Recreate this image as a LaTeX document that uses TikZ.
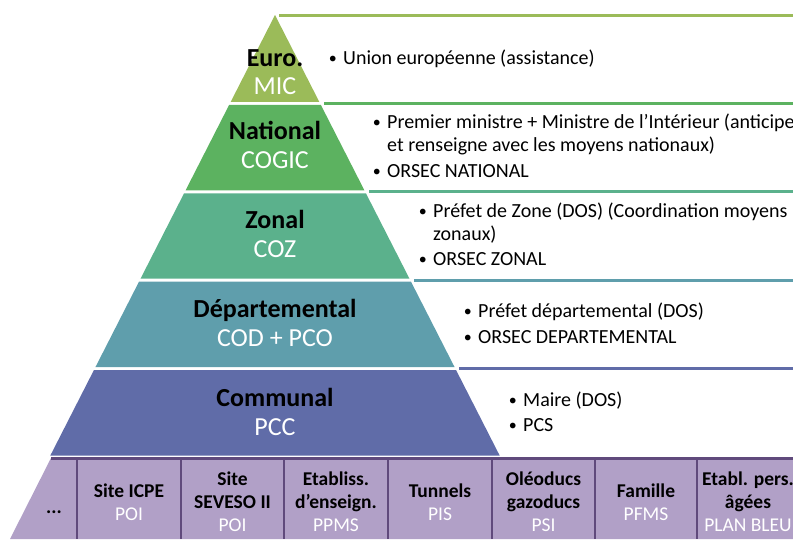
\documentclass[tikz,border=0pt]{standalone}
\usepackage{fontspec}
\setmainfont{Carlito}
\usetikzlibrary{positioning}

\definecolor{eurocol}{RGB}{155,187,89}
\definecolor{natcol}{RGB}{92,178,96}
\definecolor{zoncol}{RGB}{91,177,140}
\definecolor{depcol}{RGB}{95,158,172}
\definecolor{comcol}{RGB}{96,108,168}
\definecolor{plancol}{RGB}{177,160,199}
\definecolor{plandark}{RGB}{96,74,124}

\newcommand{\plansub}[1]{{\mdseries\color{white}#1}}

\tikzset{
  lvl/.style={font=\fontsize{26}{26}\selectfont\bfseries,anchor=base,inner sep=0pt},
  lvlsub/.style={font=\fontsize{26}{26}\selectfont,text=white,anchor=base,inner sep=0pt},
  itm/.style={font=\fontsize{20}{23}\selectfont,anchor=base west,inner sep=0pt},
  dot/.style={font=\fontsize{16}{16}\selectfont,anchor=base east,inner sep=0pt,xshift=-6pt,yshift=1pt},
  cell/.style={font=\fontsize{19.5}{23}\selectfont\bfseries,align=center,inner sep=0pt}
}

\begin{document}
\begin{tikzpicture}[x=1pt,y=-1pt]
  \useasboundingbox (0,0) rectangle (793,539);
  \clip (0,0) rectangle (793,539);

  %pyramid bands and lines to the right
  \foreach \c [count=\i from 0] in {eurocol,natcol,zoncol,depcol,comcol}{
    \pgfmathsetmacro{\ya}{ifthenelse(\i==0,15,16.5+88.4*\i)}
    \pgfmathsetmacro{\yb}{13.5+88.4*(\i+1)}
    \fill[\c] ({275-0.51*(\ya-15)},\ya) -- ({275+0.51*(\ya-15)},\ya)
      -- ({275+0.51*(\yb-15)},\yb) -- ({275-0.51*(\yb-15)},\yb) -- cycle;
    \draw[\c,line width=3pt] ({279+0.51*88.4*\i},{15+88.4*\i}) -- (793,{15+88.4*\i});
  }

  %plans row
  \fill[plancol] (51,458) -- (793,458) -- (793,539) -- (10,539) -- cycle;
  \draw[plandark,line width=2.5pt] (51,458.5) -- (793,458.5);
  \foreach \x in {77,181,284,388,492,595,697}
    \draw[plandark,line width=2.5pt] (\x,458) -- (\x,539);

  %levels
  \node[lvl] (euro) at (275,66) {Euro.};
  \node[lvlsub] (eurosub) at (275,94) {MIC};
  \node[lvl] (nat) at (275,139) {National};
  \node[lvlsub] (natsub) at (275,168) {COGIC};
  \node[lvl] (zon) at (275,228) {Zonal};
  \node[lvlsub] (zonsub) at (275,257) {COZ};
  \node[lvl] (dep) at (275,317) {Départemental};
  \node[lvlsub] (depsub) at (275,346) {COD + PCO};
  \node[lvl] (com) at (275,406) {Communal};
  \node[lvlsub] (comsub) at (275,435) {PCC};

  %bullets
  \node[itm] (euroa) at (343,64) {Union européenne (assistance)};
  \node[dot] at (euroa.base west) {\textbullet};

  \node[itm] (nata) at (387,128) {Premier ministre + Ministre de l’Intérieur (anticipe};
  \node[itm] (natb) at (387,151) {et renseigne avec les moyens nationaux)};
  \node[itm] (natc) at (387,177) {ORSEC NATIONAL};
  \node[dot] at (nata.base west) {\textbullet};
  \node[dot] at (natc.base west) {\textbullet};

  \node[itm] (zona) at (433,217) {Préfet de Zone (DOS) (Coordination moyens};
  \node[itm] (zonb) at (433,240) {zonaux)};
  \node[itm] (zonc) at (433,265) {ORSEC ZONAL};
  \node[dot] at (zona.base west) {\textbullet};
  \node[dot] at (zonc.base west) {\textbullet};

  \node[itm] (depa) at (478,317) {Préfet départemental (DOS)};
  \node[itm] (depb) at (478,343) {ORSEC DEPARTEMENTAL};
  \node[dot] at (depa.base west) {\textbullet};
  \node[dot] at (depb.base west) {\textbullet};

  \node[itm] (coma) at (523,406) {Maire (DOS)};
  \node[itm] (comb) at (523,431) {PCS};
  \node[dot] at (coma.base west) {\textbullet};
  \node[dot] at (comb.base west) {\textbullet};

  %plans
  \node[cell] (etc) at (54,512) {...};
  \node[cell] (icpe) at (129,502) {Site ICPE\\\plansub{POI}};
  \node[cell] (seveso) at (232.5,502) {Site\\SEVESO II\\\plansub{POI}};
  \node[cell] (ecole) at (336,502) {Etabliss.\\d’enseign.\\\plansub{PPMS}};
  \node[cell] (tunnel) at (440,502) {Tunnels\\\plansub{PIS}};
  \node[cell] (pipe) at (543.5,502) {Oléoducs\\gazoducs\\\plansub{PSI}};
  \node[cell] (famille) at (646,502) {Famille\\\plansub{PFMS}};
  \node[cell] (ehpad) at (748,502) {Etabl. pers.\\âgées\\\plansub{PLAN BLEU}};
\end{tikzpicture}
\end{document}
